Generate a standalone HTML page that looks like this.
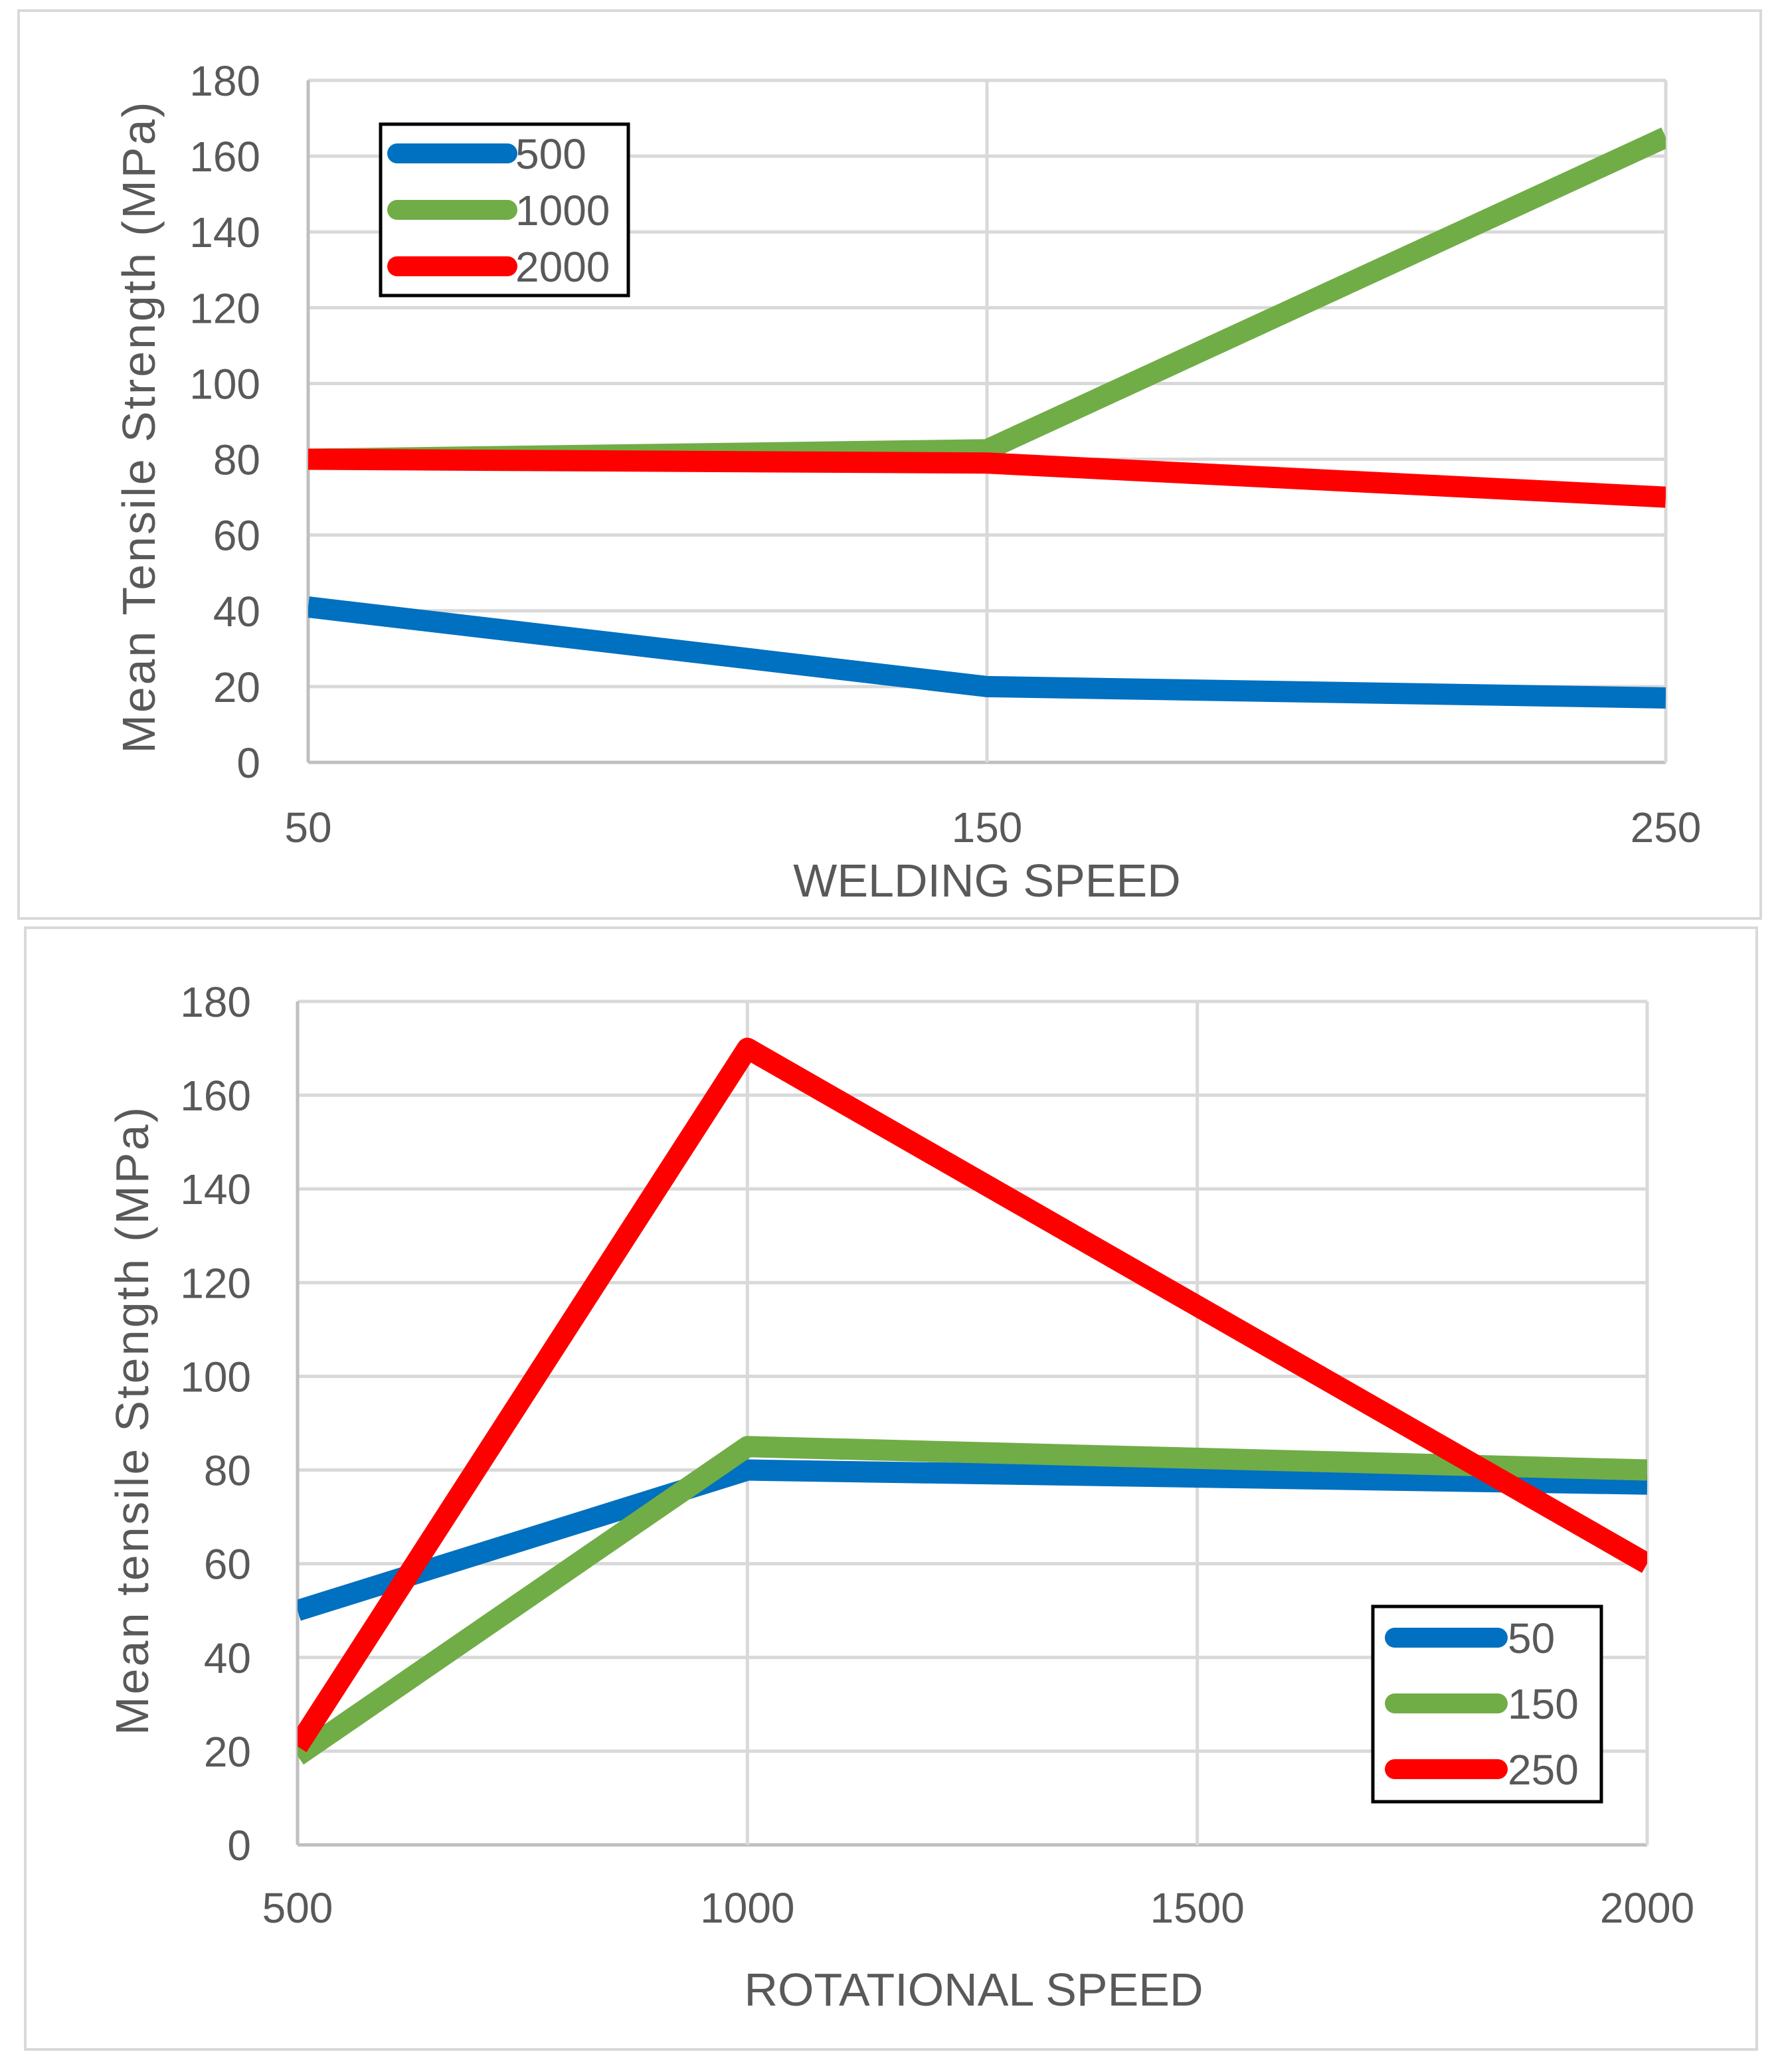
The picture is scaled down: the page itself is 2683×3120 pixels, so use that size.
<!DOCTYPE html>
<html><head><meta charset="utf-8"><style>
html,body{margin:0;padding:0;background:#fff;}
svg{display:block;}
text{font-family:"Liberation Sans",sans-serif;fill:#595959;}
</style></head><body>
<svg id="svg" width="2683" height="3120" viewBox="0 0 2683 3120" xmlns="http://www.w3.org/2000/svg">
<defs>
<clipPath id="clip1"><rect x="464" y="90" width="2044" height="1058"/></clipPath>
<clipPath id="clip2"><rect x="448" y="1480" width="2032" height="1298"/></clipPath>
</defs>
<rect x="28" y="16" width="2623" height="1367" fill="#fff" stroke="#d9d9d9" stroke-width="4"/>
<rect x="38" y="1397" width="2607" height="1689" fill="#fff" stroke="#d9d9d9" stroke-width="4"/>
<g id="c1"></g>
<g id="c2"></g>
</svg>
<script>
// Top chart data
const xCats1 = [50, 150, 250];
const yTicks1 = [0, 20, 40, 60, 80, 100, 120, 140, 160, 180];
const s1_500 = [41, 20, 17];
const s1_1000 = [80, 82.5, 165];
const s1_2000 = [80, 79, 70];
const legend1 = ["500", "1000", "2000"];
// Bottom chart data
const xTicks2 = [500, 1000, 1500, 2000];
const xCats2 = [500, 1000, 2000];
const yTicks2 = [0, 20, 40, 60, 80, 100, 120, 140, 160, 180];
const s2_50 = [50, 80, 77];
const s2_150 = [19, 85, 80];
const s2_250 = [21, 170, 60];
const legend2 = ["50", "150", "250"];

const NS = "http://www.w3.org/2000/svg";
const colors = ["#0070c0", "#70ad47", "#ff0000"];
function mk(tag, attrs, parent) {
  const e = document.createElementNS(NS, tag);
  for (const k in attrs) e.setAttribute(k, attrs[k]);
  parent.appendChild(e);
  return e;
}
function chart(g, cfg) {
  const sx = v => cfg.x0 + (v - cfg.xmin) / (cfg.xmax - cfg.xmin) * (cfg.x1 - cfg.x0);
  const sy = v => cfg.yb - v / 180 * (cfg.yb - cfg.yt);
  cfg.yTicks.forEach(t => {
    const l = mk("line", {x1: cfg.x0, x2: cfg.x1, y1: sy(t), y2: sy(t), stroke: t === 0 ? "#bfbfbf" : "#d9d9d9", "stroke-width": 5}, g);
    
    
    const tx = mk("text", {x: cfg.ylabX, y: sy(t) + 23, "text-anchor": "end", "font-size": 64}, g);
    tx.textContent = t;
    
    
  });
  cfg.xTicks.forEach(t => {
    const l = mk("line", {x1: sx(t), x2: sx(t), y1: cfg.yt, y2: cfg.yb, stroke: t === cfg.xmin ? "#bfbfbf" : "#d9d9d9", "stroke-width": 5}, g);
    
    
    const tx = mk("text", {x: sx(t), y: cfg.xlabY, "text-anchor": "middle", "font-size": 64}, g);
    tx.textContent = t;
    
    
  });
  cfg.series.forEach((s, i) => {
    const pts = s.map((v, j) => sx(cfg.xCats[j]) + "," + sy(v)).join(" ");
    const p = mk("polyline", {points: pts, fill: "none", stroke: colors[i], "stroke-width": 32, "stroke-linejoin": "round", "clip-path": cfg.clip}, g);
    
    
  });
  const xt = mk("text", {x: cfg.xtX, y: cfg.xtY, "text-anchor": "middle", "font-size": 70}, g);
  xt.textContent = cfg.xTitle;
  
  
  const yt = mk("text", {x: 0, y: 0, "text-anchor": "middle", "font-size": 70, "letter-spacing": "4", transform: "translate(" + cfg.ytX + "," + cfg.ytY + ") rotate(-90)"}, g);
  yt.textContent = cfg.yTitle;
  yt.setAttribute('textLength', cfg.ytLen);
  
  
  const L = cfg.leg;
  const box = mk("rect", {x: L.x, y: L.y, width: L.w, height: L.h, fill: "#fff", stroke: "#000", "stroke-width": 5}, g);
  
  
  cfg.legend.forEach((name, i) => {
    const cy = L.y0 + i * L.dy;
    const ln = mk("line", {x1: L.lx0, x2: L.lx1, y1: cy, y2: cy, stroke: colors[i], "stroke-width": 30, "stroke-linecap": "round"}, g);
    
    
    const tx = mk("text", {x: L.tx, y: cy + 23, "font-size": 64}, g);
    tx.textContent = name;
    
    
  });
}
chart(document.getElementById("c1"), {
  x0: 464, x1: 2508, yt: 121, yb: 1148, xmin: 50, xmax: 250,
  xTicks: xCats1, xCats: xCats1, yTicks: yTicks1, series: [s1_500, s1_1000, s1_2000], legend: legend1,
  ylabX: 392, xlabY: 1268, xTitle: "WELDING SPEED", xtX: 1486, xtY: 1350,
  yTitle: "Mean Tensile Strength (MPa)", ytX: 233, ytY: 642, ytLen: 985, clip: "url(#clip1)",
  leg: {x: 573, y: 187, w: 373, h: 258, y0: 231, dy: 85, lx0: 598, lx1: 764, tx: 776}
});
chart(document.getElementById("c2"), {
  x0: 448, x1: 2480, yt: 1508, yb: 2778, xmin: 500, xmax: 2000,
  xTicks: xTicks2, xCats: xCats2, yTicks: yTicks2, series: [s2_50, s2_150, s2_250], legend: legend2,
  ylabX: 378, xlabY: 2895, xTitle: "ROTATIONAL SPEED", xtX: 1466, xtY: 3020,
  yTitle: "Mean tensile Stength (MPa)", ytX: 223, ytY: 2138, ytLen: 950, clip: "url(#clip2)",
  leg: {x: 2067, y: 2419, w: 344, h: 294, y0: 2466, dy: 99, lx0: 2100, lx1: 2255, tx: 2270}
});
</script>
</body></html>
